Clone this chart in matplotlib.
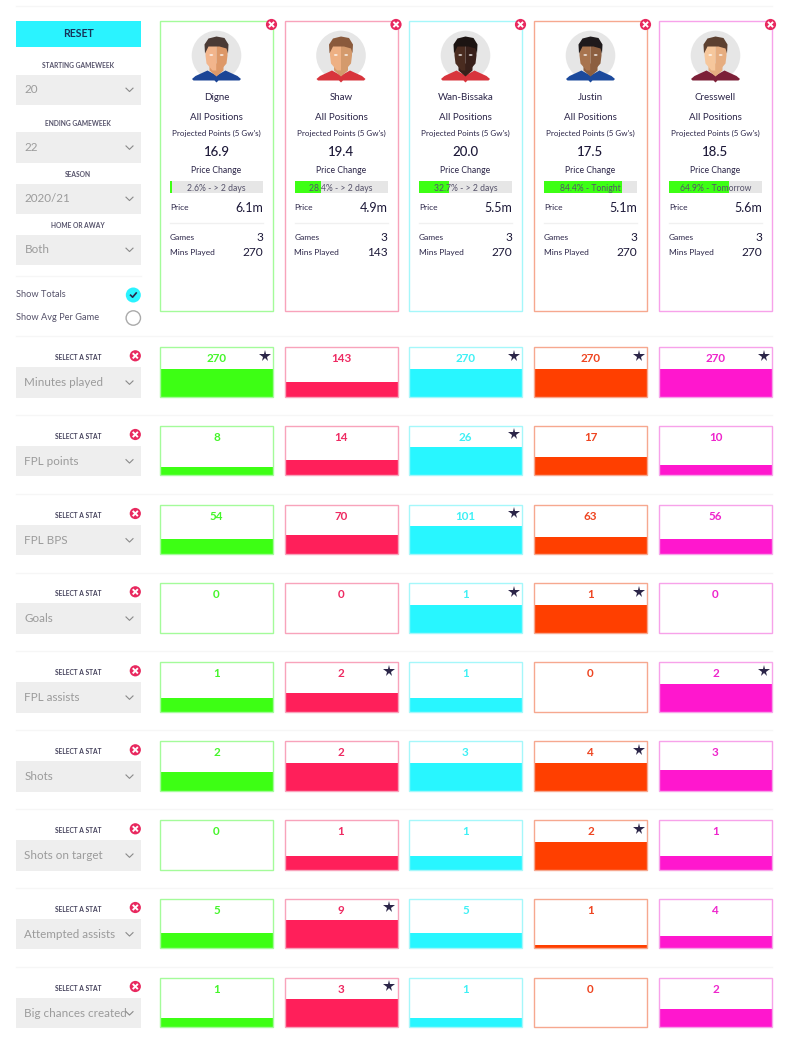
#!/usr/bin/env python3
"""
Player comparison table: five player cards with stat rows below
"""

import matplotlib
matplotlib.use('Agg')
import matplotlib.pyplot as plt
from matplotlib.patches import Circle, Polygon, Rectangle, Ellipse

plt.rcParams['font.family'] = ['Lato', 'DejaVu Sans']

# Player cards
players = ['Digne', 'Shaw', 'Wan-Bissaka', 'Justin', 'Cresswell']
projected = ['16.9', '19.4', '20.0', '17.5', '18.5']
price_pct = [2.6, 28.4, 32.7, 84.4, 64.9]
price_when = ['> 2 days', '> 2 days', '> 2 days', 'Tonight', 'Tomorrow']
prices = ['6.1m', '4.9m', '5.5m', '5.1m', '5.6m']
games = [3, 3, 3, 3, 3]
mins_played = [270, 143, 270, 270, 270]

# Stat rows
stat_names = ['Minutes played', 'FPL points', 'FPL BPS', 'Goals', 'FPL assists',
              'Shots', 'Shots on target', 'Attempted assists', 'Big chances created']
stat_values = [
    [270, 143, 270, 270, 270],
    [8, 14, 26, 17, 10],
    [54, 70, 101, 63, 56],
    [0, 0, 1, 1, 0],
    [1, 2, 1, 0, 2],
    [2, 2, 3, 4, 3],
    [0, 1, 1, 2, 1],
    [5, 9, 5, 1, 4],
    [1, 3, 1, 0, 2],
]
# bar fill as percent of the fullest bar in the row
bar_share = [
    [100, 53, 100, 100, 100],
    [31, 54, 100, 65, 38],
    [54, 69, 100, 62, 55],
    [0, 0, 100, 100, 0],
    [50, 67, 50, 0, 100],
    [67, 100, 100, 100, 75],
    [0, 50, 50, 100, 50],
    [56, 100, 56, 11, 44],
    [33, 100, 33, 0, 67],
]

# Sidebar
filter_labels = ['STARTING GAMEWEEK', 'ENDING GAMEWEEK', 'SEASON', 'HOME OR AWAY']
filter_values = ['20', '22', '2020/21', 'Both']

# Colors
col_colors = ['#3dff14', '#ff1f5a', '#28f6ff', '#ff3f00', '#ff17ce']
text_colors = ['#45f52a', '#ee2a62', '#3ff0f5', '#ee4420', '#ee25cc']
border_colors = ['#a4fb9a', '#f8a3bb', '#a5f7fa', '#f6a88f', '#f7a2ea']
navy = '#2b2548'
grey_text = '#9b9b9b'
dropdown_bg = '#eeeeee'
close_red = '#e8295f'
line_color = '#f6f6f6'

# Portrait colors: skin light, skin dark, hair, shirt
portraits = [
    ('#f2b58c', '#dd9868', '#4a3a35', '#1c4596'),
    ('#eeb083', '#d49a6c', '#8a5a3c', '#d8343c'),
    ('#4a2c20', '#38201a', '#1c1412', '#d8343c'),
    ('#a8744e', '#8c5f40', '#1e1a1c', '#1c4a9c'),
    ('#f6c79c', '#e6ad80', '#5c4030', '#7c2038'),
]

col_left = [160, 284.5, 409, 534, 659]
col_w = 113
row_top = [347.3, 426, 505, 583.3, 662.3, 741.3, 820.3, 899, 978]
row_h = 49.4
max_bar = 28.0

fig = plt.figure(figsize=(8, 10.39), dpi=100)
ax = fig.add_axes([0, 0, 1, 1])
ax.set_xlim(0, 800)
ax.set_ylim(1039, 0)
ax.axis('off')


def draw_close(x, y):
    ax.add_patch(Circle((x, y), 5.6, facecolor=close_red, edgecolor='none', zorder=6))
    d = 1.9
    ax.plot([x - d, x + d], [y - d, y + d], color='white', lw=1.4, zorder=7)
    ax.plot([x - d, x + d], [y + d, y - d], color='white', lw=1.4, zorder=7)


def draw_dropdown(top, value, height=30.3):
    ax.add_patch(Rectangle((16, top), 125, height, facecolor=dropdown_bg, edgecolor='none'))
    ax.text(24.5, top + height / 2, value, fontsize=8.4, color=grey_text, va='center', ha='left')
    cy = top + height / 2 + 0.3
    ax.plot([126, 129.5, 133], [cy - 1.8, cy + 1.6, cy - 1.8], color='#8a8a8a', lw=0.8, zorder=5)


def draw_portrait(cx, cy, skin, skin_dark, hair, shirt):
    # grey disc, shoulders, neck, face split in two tones, hair and eyes
    ax.add_patch(Circle((cx, cy), 24.8, facecolor='#e6e6e6', edgecolor='none'))
    ax.add_patch(Polygon([(cx - 24.5, cy + 23.5), (cx - 21, cy + 20.5), (cx - 9, cy + 15),
                          (cx, cy + 20), (cx + 9, cy + 15), (cx + 21, cy + 20.5),
                          (cx + 24.5, cy + 23.5), (cx + 23, cy + 25), (cx + 2, cy + 25),
                          (cx, cy + 27), (cx - 2, cy + 25), (cx - 23, cy + 25)],
                         facecolor=shirt, edgecolor='none'))
    ax.add_patch(Polygon([(cx - 7, cy + 8), (cx + 7, cy + 8), (cx + 7, cy + 15), (cx, cy + 21),
                          (cx - 7, cy + 15)], facecolor=skin_dark, edgecolor='none'))
    ax.add_patch(Polygon([(cx - 11, cy - 12), (cx, cy - 12), (cx, cy + 15), (cx - 4, cy + 15),
                          (cx - 10, cy + 8), (cx - 11, cy)], facecolor=skin, edgecolor='none'))
    ax.add_patch(Polygon([(cx + 11, cy - 12), (cx, cy - 12), (cx, cy + 15), (cx + 4, cy + 15),
                          (cx + 10, cy + 8), (cx + 11, cy)], facecolor=skin_dark, edgecolor='none'))
    ax.add_patch(Polygon([(cx - 11.5, cy - 2), (cx - 12, cy - 11), (cx - 8, cy - 17), (cx, cy - 19),
                          (cx + 8, cy - 17.5), (cx + 12, cy - 11), (cx + 11.5, cy - 2),
                          (cx + 10, cy - 7), (cx + 3, cy - 9), (cx - 8, cy - 9)],
                         facecolor=hair, edgecolor='none'))
    for ex in (cx - 5.2, cx + 5.2):
        ax.add_patch(Ellipse((ex, cy - 0.5), 3.8, 1.4, facecolor='white', edgecolor='none'))


# Separators
for y in [5.5, 336, 415, 494, 572.7, 651, 730, 809, 888, 967]:
    ax.plot([16, 772], [y, y], color=line_color, lw=1)
ax.plot([16, 141], [276, 276], color=line_color, lw=1)

# Sidebar
ax.add_patch(Rectangle((16, 20.5), 125, 26, facecolor='#2af3ff', edgecolor='none'))
ax.text(78, 33.4, 'RESET', fontsize=7.6, fontweight='bold', color='#16345a',
        ha='center', va='center')
filter_label_y = [65, 123.3, 174.3, 225.3]
filter_box_y = [74.5, 132.3, 183.5, 234.5]
for label, value, ly, by in zip(filter_labels, filter_values, filter_label_y, filter_box_y):
    ax.text(78, ly, label, fontsize=4.8, fontweight='bold', color='#55526a', ha='center', va='center')
    draw_dropdown(by, value)

ax.text(16.5, 294.3, 'Show Totals', fontsize=6.7, color='#55526a', va='center')
ax.text(16.5, 317.6, 'Show Avg Per Game', fontsize=6.7, color='#55526a', va='center')
ax.add_patch(Circle((133.3, 295), 7.5, facecolor='#2af3ff', edgecolor='none'))
ax.plot([130.6, 132.6, 136.2], [295.2, 297.2, 293], color=navy, lw=1.2)
ax.add_patch(Circle((133.3, 318), 7.2, facecolor='white', edgecolor='#aaaaaa', lw=1))

# Player cards
for i, name in enumerate(players):
    x0 = col_left[i]
    cx = x0 + col_w / 2
    left = x0 + 10
    right = x0 + col_w - 10
    ax.add_patch(Rectangle((x0, 20.8), col_w, 290.3, facecolor='white',
                           edgecolor=border_colors[i], lw=1))
    draw_close(x0 + col_w - 1.5, 24.5)
    draw_portrait(cx, 55.5, *portraits[i])

    ax.text(cx, 97.5, name, fontsize=7, color=navy, ha='center', va='center')
    ax.text(cx, 117.2, 'All Positions', fontsize=7, color=navy, ha='center', va='center')
    ax.text(cx, 133.5, "Projected Points (5 Gw's)", fontsize=5.8, color=navy, ha='center', va='center')
    ax.text(cx, 152, projected[i], fontsize=9.5, fontweight='medium', color='#1c1838',
            ha='center', va='center')
    ax.text(cx, 170.5, 'Price Change', fontsize=6.2, color=navy, ha='center', va='center')

    # price change bar
    track = right - left
    ax.barh(187, track, height=12, left=left, color='#e6e6e6', linewidth=0)
    ax.barh(187, price_pct[i] / 100 * track, height=12, left=left, color='#3dff14', linewidth=0)
    ax.text(cx, 188.5, f'{price_pct[i]}% - {price_when[i]}', fontsize=6.2, color='#55526a',
            ha='center', va='center')

    ax.text(left, 208, 'Price', fontsize=6, color=navy, va='center')
    ax.text(right, 208, prices[i], fontsize=9, color='#1c1838', ha='right', va='center')
    ax.plot([left, right], [222.7, 222.7], color='#f0f0f0', lw=1)
    ax.text(left, 237.3, 'Games', fontsize=6, color=navy, va='center')
    ax.text(right, 237.3, str(games[i]), fontsize=8.6, color='#1c1838', ha='right', va='center')
    ax.text(left, 252.8, 'Mins Played', fontsize=6, color=navy, va='center')
    ax.text(right, 252.8, str(mins_played[i]), fontsize=8.6, color='#1c1838', ha='right', va='center')

# Stat rows
for r, stat in enumerate(stat_names):
    top = row_top[r]
    bottom = top + row_h
    ax.text(78.5, top + 10.5, 'SELECT A STAT', fontsize=4.8, fontweight='bold', color='#45425c',
            ha='center', va='center')
    draw_close(135.3, top + 8.5)
    draw_dropdown(top + 20, stat)

    best = max(stat_values[r])
    for i in range(len(players)):
        x0 = col_left[i]
        ax.bar(x0 + col_w / 2, -bar_share[r][i] / 100 * max_bar, width=col_w, bottom=bottom,
               color=col_colors[i], linewidth=0, zorder=2)
        ax.add_patch(Rectangle((x0, top), col_w, row_h, facecolor='none',
                               edgecolor=border_colors[i], lw=1, zorder=3))
        ax.text(x0 + col_w / 2, top + 11.5, str(stat_values[r][i]), fontsize=8.4,
                fontweight='bold', color=text_colors[i], ha='center', va='center', zorder=4)
        if stat_values[r][i] == best:
            ax.plot(x0 + col_w - 8.5, top + 8.2, marker='*', ms=8.5, color=navy,
                    markeredgewidth=0, zorder=4)

fig.savefig('out.png', dpi=100, facecolor='white')
